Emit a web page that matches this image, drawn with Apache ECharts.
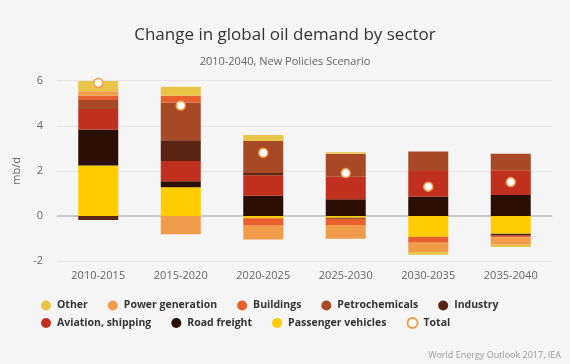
<!DOCTYPE html>
<html>
<head>
<meta charset="utf-8">
<script src="https://cdn.jsdelivr.net/npm/echarts@6/dist/echarts.min.js"></script>
<style>
html,body{margin:0;padding:0;background:#f5f5f5;}
#main{width:570px;height:364px;}
</style>
</head>
<body>
<div id="main"></div>
<script>
const categories = ['2010-2015','2015-2020','2020-2025','2025-2030','2030-2035','2035-2040'];
const passengerVehicles = [2.24, 1.27, -0.1, -0.08, -0.92, -0.79];
const roadFreight      = [1.6, 0.27, 0.89, 0.74, 0.86, 0.93];
const aviationShipping = [0.9, 0.9, 0.92, 1.0, 1.13, 1.1];
const industry         = [-0.18, 0.92, 0.1, -0.05, 0, -0.09];
const petrochemicals   = [0.4, 1.67, 1.41, 1.02, 0.87, 0.73];
const buildings        = [0.19, 0.3, -0.34, -0.27, -0.27, -0.07];
const powerGeneration  = [0.2, -0.81, -0.61, -0.61, -0.41, -0.33];
const other            = [0.46, 0.4, 0.27, 0.07, -0.12, -0.1];
const total            = [5.9, 4.9, 2.8, 1.9, 1.3, 1.5];
const yTicks = [-2, 0, 2, 4, 6];
const legendRow1 = ['Other','Power generation','Buildings','Petrochemicals','Industry'];
const legendRow2 = ['Aviation, shipping','Road freight','Passenger vehicles','Total'];

const FONT = "'Open Sans', sans-serif";
const stacks = [
  ['Passenger vehicles', passengerVehicles, '#FFCC00'],
  ['Road freight', roadFreight, '#2B0F05'],
  ['Aviation, shipping', aviationShipping, '#C1301F'],
  ['Industry', industry, '#5A2413'],
  ['Petrochemicals', petrochemicals, '#A84925'],
  ['Buildings', buildings, '#E8602C'],
  ['Power generation', powerGeneration, '#F19C4B'],
  ['Other', other, '#E8C547']
];
const series = stacks.map(([name, data, color]) => ({
  name, type: 'bar', stack: 'total', data, barWidth: 40,
  itemStyle: { color }, emphasis: { disabled: true }
}));
series[0].markLine = {
  silent: true, symbol: 'none', z: 1, label: { show: false },
  lineStyle: { color: '#c8c8c8', width: 2, type: 'solid' },
  data: [{ yAxis: 0 }]
};
series.push({
  name: 'Total', type: 'scatter', data: total, symbol: 'circle', symbolSize: 9, z: 10,
  itemStyle: { color: '#ffffff', opacity: 1, borderColor: '#F19C4B', borderWidth: 1.5 },
  emphasis: { disabled: true }
});

const legendBase = {
  left: 41, itemGap: 20, itemWidth: 12, itemHeight: 10, icon: 'circle', padding: 0,
  textStyle: { fontFamily: FONT, fontSize: 10.5, fontWeight: 'bold', color: '#333333' }
};

const chart = echarts.init(document.getElementById('main'));
chart.setOption({
  backgroundColor: '#f5f5f5',
  animation: false,
  textStyle: { fontFamily: FONT },
  title: {
    text: 'Change in global oil demand by sector',
    subtext: '2010-2040, New Policies Scenario',
    left: 'center', top: 22, itemGap: 12,
    textStyle: { fontFamily: FONT, fontSize: 17, fontWeight: 'normal', color: '#333333' },
    subtextStyle: { fontFamily: FONT, fontSize: 11, color: '#666666' }
  },
  legend: [
    Object.assign({}, legendBase, { data: legendRow1, top: 300 }),
    Object.assign({}, legendBase, { data: legendRow2, top: 317 })
  ],
  grid: { left: 57, right: 18, top: 80.7, bottom: 103, containLabel: false },
  xAxis: {
    type: 'category', data: categories,
    axisLine: { lineStyle: { color: '#ccd6eb' } },
    axisTick: { length: 9, lineStyle: { color: '#ccd6eb' } },
    axisLabel: { color: '#666666', fontSize: 11, margin: 9 }
  },
  yAxis: {
    type: 'value', min: yTicks[0], max: yTicks[yTicks.length - 1], interval: 2,
    name: 'mb/d', nameLocation: 'middle', nameGap: 29,
    nameTextStyle: { color: '#666666', fontSize: 11 },
    axisLine: { show: false }, axisTick: { show: false },
    axisLabel: { color: '#666666', fontSize: 11, margin: 14 },
    splitLine: { lineStyle: { color: '#e6e6e6' } }
  },
  graphic: [{
    type: 'text', right: 9, top: 351,
    style: { text: 'World Energy Outlook 2017, IEA', fill: '#999999', fontSize: 9, fontFamily: FONT }
  }],
  series
});
</script>
</body>
</html>
